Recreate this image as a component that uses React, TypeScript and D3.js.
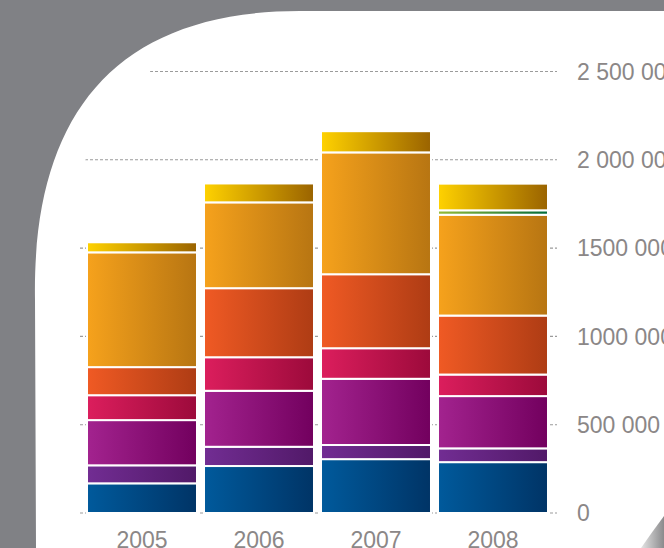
import React from 'react';
import * as d3 from 'd3';

// ---- data ----
const years = ['2005', '2006', '2007', '2008'];
const seriesKeys = ['s1', 's2', 's3', 's4', 's5', 's6', 's7', 's8'];
const s1 = [168000, 266000, 305000, 288000]; // blue
const s2 = [102000, 109000, 80000, 78000]; // violet
const s3 = [256000, 317000, 375000, 296000]; // purple
const s4 = [141000, 190000, 173000, 122000]; // crimson
const s5 = [159000, 391000, 419000, 334000]; // vermilion
const s6 = [650000, 486000, 690000, 571000]; // orange
const s7 = [0, 0, 0, 25000]; // green
const s8 = [57000, 107000, 120000, 151000]; // gold
const tickValues = [0, 500000, 1000000, 1500000, 2000000, 2500000];
const tickLabels = ['0', '500 000', '1000 000', '1500 000', '2 000 000', '2 500 000'];

// ---- styles ----
const gradStops: [string, string][] = [
  ['#005a9c', '#003466'],
  ['#722d93', '#511968'],
  ['#a3238f', '#72005e'],
  ['#dc1e5d', '#9c0a3b'],
  ['#f05a24', '#ae3c14'],
  ['#f6a21c', '#b77512'],
  ['#95bb36', '#006a3a'],
  ['#ffd200', '#9a6300'],
];

const W = 664;
const H = 548;

export default function App() {
  const table = years.map((y, i) => ({
    year: y,
    s1: s1[i], s2: s2[i], s3: s3[i], s4: s4[i],
    s5: s5[i], s6: s6[i], s7: s7[i], s8: s8[i],
  }));
  const stacked = d3.stack<any>().keys(seriesKeys)(table);

  const x = d3.scaleBand<string>()
    .domain(years)
    .range([83.5, 551.5])
    .paddingInner(0.06)
    .paddingOuter(0.03);
  const y = d3.scaleLinear().domain([0, 2500000]).range([513, 71.5]);

  const whitePath = 'M36,548 L35,300 C32,120 110,11 300,11 L664,11 L664,548 Z';
  const gridClip = 'M79,548 L79,230 C79,110 120,72 200,55 L664,55 L664,548 Z';

  const font = "'Liberation Sans', Arial, Helvetica, sans-serif";
  const textColor = '#8b8787';

  return (
    <svg width={W} height={H} style={{ position: 'absolute', left: 0, top: 0 }}>
      <defs>
        {gradStops.map((g, i) => (
          <linearGradient key={i} id={`g${i}`} x1="0" y1="0" x2="1" y2="0">
            <stop offset="0%" stopColor={g[0]} />
            <stop offset="100%" stopColor={g[1]} />
          </linearGradient>
        ))}
        <linearGradient id="cornerGrad" x1="0" y1="0" x2="1" y2="0">
          <stop offset="0%" stopColor="#e4e4e4" />
          <stop offset="100%" stopColor="#8a8a8c" />
        </linearGradient>
        <clipPath id="gridClip">
          <path d={gridClip} />
        </clipPath>
      </defs>
      <rect x={0} y={0} width={W} height={H} fill="#808185" />
      <path d={whitePath} fill="#ffffff" />
      <path d="M641,548 Q652,532 664,516 L664,548 Z" fill="url(#cornerGrad)" />

      <g clipPath="url(#gridClip)">
        {tickValues.map((t) => (
          <line
            key={t}
            x1={0}
            x2={557}
            y1={y(t)}
            y2={y(t)}
            stroke="#9b9b9b"
            strokeWidth={1.1}
            strokeDasharray="3,2"
          />
        ))}
      </g>

      {stacked.map((layer, li) => (
        <g key={layer.key} fill={`url(#g${li})`}>
          {layer.map((d, i) => {
            const h = y(d[0]) - y(d[1]);
            if (h <= 0) return null;
            return (
              <rect
                key={i}
                x={x(years[i])}
                y={y(d[1])}
                width={x.bandwidth()}
                height={h}
                stroke="#ffffff"
                strokeWidth={2}
              />
            );
          })}
        </g>
      ))}

      {tickValues.map((t, i) => (
        <text
          key={t}
          x={577}
          y={y(t)}
          dy="0.36em"
          fontFamily={font}
          fontSize={23}
          fill={textColor}
        >
          {tickLabels[i]}
        </text>
      ))}

      {years.map((yr) => (
        <text
          key={yr}
          x={(x(yr) as number) + x.bandwidth() / 2}
          y={548}
          textAnchor="middle"
          fontFamily={font}
          fontSize={23}
          fill={textColor}
        >
          {yr}
        </text>
      ))}
    </svg>
  );
}
